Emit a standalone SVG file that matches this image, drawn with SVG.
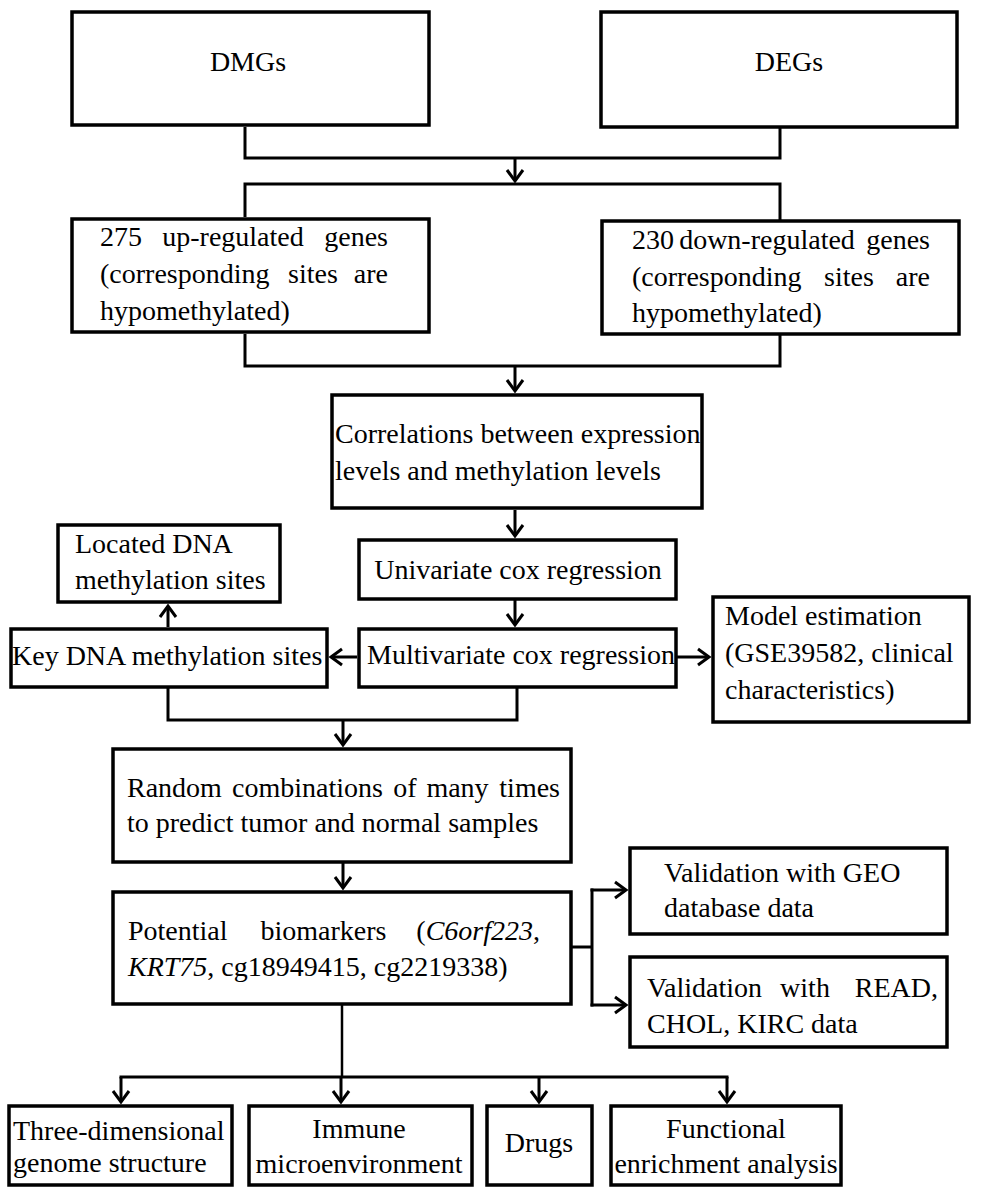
<svg xmlns="http://www.w3.org/2000/svg" width="981" height="1196" viewBox="0 0 981 1196">
<style>
  .box { fill: #ffffff; stroke: #000000; stroke-width: 3.5; }
  .ln { fill: none; stroke: #000000; stroke-width: 3; }
  .ar { fill: none; stroke: #000000; stroke-width: 3; marker-end: url(#arr); }
  text { font-family: "Liberation Serif", "Times New Roman", serif; font-size: 28px; fill: #000000; }
  .m { text-anchor: middle; }
  .e { text-anchor: end; }
  .i { font-style: italic; }
</style>
<defs>
  <marker id="arr" markerUnits="userSpaceOnUse" markerWidth="20" markerHeight="20" viewBox="-14 -10 16 20" refX="0" refY="0" orient="auto" overflow="visible">
    <path d="M-11,-8 L0,0 L-11,8" fill="none" stroke="#000000" stroke-width="3"/>
  </marker>
</defs>
<rect width="981" height="1196" fill="#ffffff"/>

<g id="connectors">
  <polyline class="ln" points="245,127 245,158 780,158 780,128"/>
  <line class="ar" x1="515" y1="158" x2="515" y2="181"/>
  <polyline class="ln" points="245,217 245,184 780,184 780,220"/>
  <polyline class="ln" points="245,334 245,366 780,366 780,335"/>
  <line class="ar" x1="515" y1="366" x2="515" y2="391"/>
  <line class="ar" x1="515" y1="510" x2="515" y2="536"/>
  <line class="ar" x1="515" y1="600" x2="515" y2="625"/>
  <line class="ar" x1="357" y1="657" x2="331" y2="657"/>
  <line class="ar" x1="676" y1="657" x2="709" y2="657"/>
  <line class="ar" x1="168" y1="627" x2="168" y2="606"/>
  <polyline class="ln" points="168,688 168,720 517,720 517,688"/>
  <line class="ar" x1="343" y1="720" x2="343" y2="745"/>
  <line class="ar" x1="343" y1="862" x2="343" y2="888"/>
  <line class="ln" x1="571" y1="947" x2="592" y2="947"/>
  <line class="ln" x1="592" y1="888.5" x2="592" y2="1006.5"/>
  <line class="ar" x1="590.5" y1="890" x2="626" y2="890"/>
  <line class="ar" x1="590.5" y1="1005" x2="626" y2="1005"/>
  <line class="ln" style="stroke-width:2.5" x1="342" y1="1005" x2="342" y2="1077"/>
  <line class="ln" x1="119.5" y1="1077" x2="728.5" y2="1077"/>
  <line class="ar" x1="121" y1="1077" x2="121" y2="1102"/>
  <line class="ar" x1="341" y1="1077" x2="341" y2="1102"/>
  <line class="ar" x1="539" y1="1077" x2="539" y2="1102"/>
  <line class="ar" x1="727" y1="1077" x2="727" y2="1102"/>
</g>

<g id="dmgs">
  <rect class="box" x="72" y="12" width="357" height="113"/>
  <text class="m" x="248" y="71">DMGs</text>
</g>
<g id="degs">
  <rect class="box" x="601" y="12" width="356" height="115"/>
  <text class="m" x="789" y="71">DEGs</text>
</g>
<g id="up275">
  <rect class="box" x="72" y="219" width="357" height="113"/>
  <text y="246"><tspan x="100">275</tspan><tspan class="m" x="233">up-regulated</tspan><tspan class="e" x="388">genes</tspan></text>
  <text y="283"><tspan x="100">(corresponding</tspan><tspan class="m" x="313">sites</tspan><tspan class="e" x="388">are</tspan></text>
  <text x="100" y="320">hypomethylated)</text>
</g>
<g id="down230">
  <rect class="box" x="602" y="221" width="357" height="113"/>
  <text y="249"><tspan x="632">230</tspan><tspan class="m" x="767">down-regulated</tspan><tspan class="e" x="930">genes</tspan></text>
  <text y="286"><tspan x="632">(corresponding</tspan><tspan class="m" x="849">sites</tspan><tspan class="e" x="930">are</tspan></text>
  <text x="632" y="322">hypomethylated)</text>
</g>
<g id="correlations">
  <rect class="box" x="332" y="395" width="370" height="113"/>
  <text x="335" y="443">Correlations between expression</text>
  <text x="335" y="480">levels and methylation levels</text>
</g>
<g id="univariate">
  <rect class="box" x="359" y="540" width="317" height="59"/>
  <text class="m" x="518" y="579">Univariate cox regression</text>
</g>
<g id="multivariate">
  <rect class="box" x="359" y="629" width="317" height="58"/>
  <text x="367" y="664">Multivariate cox regression</text>
</g>
<g id="keysites">
  <rect class="box" x="11" y="629" width="316" height="58"/>
  <text x="12" y="665">Key DNA methylation sites</text>
</g>
<g id="located">
  <rect class="box" x="58" y="525" width="222" height="77"/>
  <text x="75" y="553">Located DNA</text>
  <text x="75" y="589">methylation sites</text>
</g>
<g id="model">
  <rect class="box" x="713" y="597" width="256" height="125"/>
  <text x="725" y="625">Model estimation</text>
  <text x="725" y="662">(GSE39582, clinical</text>
  <text x="725" y="699">characteristics)</text>
</g>
<g id="random">
  <rect class="box" x="113" y="749" width="458" height="113"/>
  <text y="797"><tspan x="127">Random</tspan><tspan class="m" x="307.5">combinations</tspan><tspan class="m" x="405">of</tspan><tspan class="m" x="457.5">many</tspan><tspan class="e" x="560">times</tspan></text>
  <text x="127" y="832">to predict tumor and normal samples</text>
</g>
<g id="biomarkers">
  <rect class="box" x="113" y="892" width="458" height="112"/>
  <text y="940"><tspan x="128">Potential</tspan><tspan class="m" x="323.5">biomarkers</tspan></text>
  <text class="e" x="540" y="940">(<tspan class="i">C6orf223</tspan>,</text>
  <text x="128" y="976"><tspan class="i">KRT75</tspan>, cg18949415, cg2219338)</text>
</g>
<g id="geo">
  <rect class="box" x="630" y="848" width="317" height="86"/>
  <text x="664" y="882">Validation with GEO</text>
  <text x="664" y="917">database data</text>
</g>
<g id="read">
  <rect class="box" x="630" y="957" width="317" height="90"/>
  <text y="997"><tspan x="647">Validation</tspan><tspan class="m" x="805">with</tspan><tspan class="e" x="938">READ,</tspan></text>
  <text x="647" y="1033">CHOL, KIRC data</text>
</g>
<g id="genome">
  <rect class="box" x="9" y="1106" width="223" height="79"/>
  <text x="13" y="1140">Three-dimensional</text>
  <text x="13" y="1172">genome structure</text>
</g>
<g id="immune">
  <rect class="box" x="249" y="1106" width="223" height="79"/>
  <text class="m" x="359" y="1138">Immune</text>
  <text class="m" x="359" y="1173">microenvironment</text>
</g>
<g id="drugs">
  <rect class="box" x="487" y="1106" width="105" height="79"/>
  <text class="m" x="539" y="1152">Drugs</text>
</g>
<g id="functional">
  <rect class="box" x="611" y="1106" width="230" height="79"/>
  <text class="m" x="726" y="1138">Functional</text>
  <text class="m" x="726" y="1173">enrichment analysis</text>
</g>
</svg>
